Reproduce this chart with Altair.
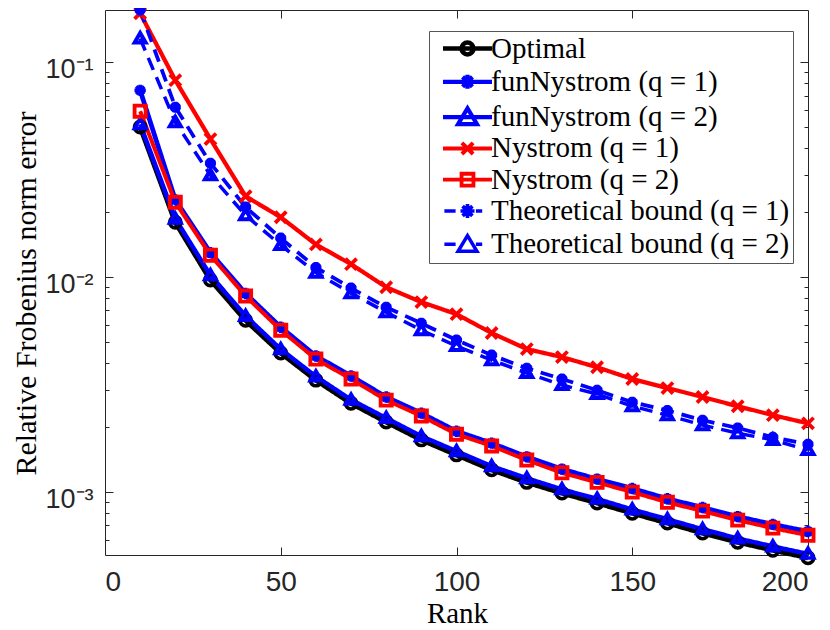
import altair as alt
import pandas as pd

# ---------------- data ----------------
ranks = [10, 20, 30, 40, 50, 60, 70, 80, 90, 100, 110, 120, 130, 140, 150, 160, 170, 180, 190, 200]

series_names = [
    "Optimal",
    "funNystrom (q = 1)",
    "funNystrom (q = 2)",
    "Nystrom (q = 1)",
    "Nystrom (q = 2)",
    "Theoretical bound (q = 1)",
    "Theoretical bound (q = 2)",
]

optimal = [0.0500, 0.0180, 0.0097, 0.0063, 0.00444, 0.00332, 0.00259, 0.00212, 0.00175, 0.00149,
           0.00127, 0.00111, 0.00099, 0.00089, 0.000798, 0.000718, 0.000645, 0.000585, 0.000537, 0.000495]
fun_q1 = [0.0740, 0.0229, 0.0130, 0.0084, 0.00585, 0.00430, 0.00347, 0.00277, 0.00233, 0.00192,
          0.00169, 0.00146, 0.00128, 0.00115, 0.00104, 0.000932, 0.000848, 0.000770, 0.000708, 0.000656]
fun_q2 = [0.0515, 0.0187, 0.0102, 0.0066, 0.00462, 0.00345, 0.00269, 0.00221, 0.00182, 0.00155,
          0.00132, 0.00116, 0.00103, 0.00093, 0.00083, 0.000748, 0.000672, 0.000609, 0.000559, 0.000516]
nys_q1 = [0.169, 0.0825, 0.0439, 0.0238, 0.0190, 0.0142, 0.0115, 0.00898, 0.00766, 0.00673,
          0.00550, 0.00463, 0.00425, 0.00381, 0.00336, 0.00305, 0.00277, 0.00251, 0.00228, 0.00209]
nys_q2 = [0.0592, 0.0223, 0.01265, 0.00817, 0.00567, 0.00416, 0.00336, 0.00268, 0.00226, 0.00186,
          0.00164, 0.00141, 0.00123, 0.00111, 0.00100, 0.000897, 0.000816, 0.000741, 0.000680, 0.000630]
theo_q1 = [0.175, 0.0618, 0.0339, 0.0212, 0.0152, 0.0111, 0.0089, 0.00725, 0.0061, 0.0051,
           0.00434, 0.00377, 0.00336, 0.00298, 0.00262, 0.00240, 0.00216, 0.00199, 0.00180, 0.00167]
theo_q2 = [0.129, 0.0526, 0.0298, 0.0194, 0.0141, 0.0105, 0.00843, 0.00687, 0.00567, 0.00478,
           0.00411, 0.00358, 0.00315, 0.00286, 0.00251, 0.00228, 0.00205, 0.00188, 0.00175, 0.00157]

all_values = [optimal, fun_q1, fun_q2, nys_q1, nys_q2, theo_q1, theo_q2]

x_tick_values = [0, 50, 100, 150, 200]
x_inner_ticks = [50, 100, 150]
y_decades = [0.1, 0.01, 0.001]
y_decade_labels = ["10\u207b\u00b9", "10\u207b\u00b2", "10\u207b\u00b3"]
y_tick_values = [k * 10.0 ** e for e in (-4, -3, -2, -1) for k in range(1, 10)
                 if 5.1e-4 <= k * 10.0 ** e <= 0.175]

# ---------------- styles ----------------
colors = ["#000000", "#0000ff", "#0000ff", "#ff0000", "#ff0000", "#0000ff", "#0000ff"]
line_widths = [5, 3.5, 3.5, 2.5, 2.5, 3, 3]
dashes = [[1, 0], [1, 0], [1, 0], [1, 0], [1, 0], [13, 8], [13, 8]]

AST = "M0,-1L0,1M-1,0L1,0M-0.7,-0.7L0.7,0.7M-0.7,0.7L0.7,-0.7"
TRI = "M0,-1L1,0.73L-1,0.73Z"
XX = "M-1,-1L1,1M-1,1L1,-1"
marker_shapes = ["circle", AST, TRI, XX, "square", AST, TRI]
marker_sizes = [130, 120, 330, 110, 150, 210, 300]
marker_widths = [3.5, 4, 3, 2.5, 2.5, 2.2, 2.2]

# legend symbols: line segment + marker
LS = "M-3.5,0L3.5,0"
LD = "M-3.3,0L-1.7,0M1.2,0L2.1,0"
L_CIRC = "M-0.85,0A0.85,0.85 0 1,1 0.85,0A0.85,0.85 0 1,1 -0.85,0Z"
L_AST = AST
L_TRI = "M0,-1.25L1.35,1L-1.35,1Z"
L_XX = "M-0.8,-0.8L0.8,0.8M-0.8,0.8L0.8,-0.8"
L_SQ = "M-0.85,-0.85L0.85,-0.85L0.85,0.85L-0.85,0.85Z"
legend_shapes = [LS + L_CIRC, LS + L_AST, LS + L_TRI, LS + L_XX, LS + L_SQ, LD + L_AST, LD + L_TRI]
legend_widths = [4.5, 3.5, 3.5, 2.5, 2.5, 3, 3]

W, H = 703, 545
AXIS_COLOR = "#262626"

rows = []
for name, vals in zip(series_names, all_values):
    for r, v in zip(ranks, vals):
        rows.append({"series": name, "rank": r, "value": v})
df = pd.DataFrame(rows)

xscale = alt.Scale(domain=[0, 200], nice=False, zero=False)
yscale = alt.Scale(type="log", domain=[5.1e-4, 0.175], nice=False, zero=False)

label_expr = " : ".join(
    f"abs(datum.value / {d} - 1) < 1e-6 ? '{lab}'" for d, lab in zip(y_decades, y_decade_labels)
) + " : ''"
major_test = "abs(log(datum.value) / LN10 - round(log(datum.value) / LN10)) < 1e-6"
tick_size_cond = {"condition": {"test": major_test, "value": 8}, "value": 4}

base = alt.Chart(df)

# layer 1: lines + main (labelled) axes
lines = base.mark_line().encode(
    x=alt.X("rank:Q", scale=xscale, axis=alt.Axis(
        orient="bottom", values=x_tick_values, ticks=False, domain=False, grid=False,
        labelFont="Liberation Sans", labelFontSize=28, labelColor=AXIS_COLOR, labelPadding=13,
        title="Rank", titleFont="Liberation Serif", titleFontSize=29, titleFontWeight="normal",
        titleColor="black", titleX=352, titleY=67, titleBaseline="alphabetic", titleAlign="center")),
    y=alt.Y("value:Q", scale=yscale, axis=alt.Axis(
        orient="left", values=y_tick_values, ticks=False, domain=False, grid=False,
        labelExpr=label_expr, labelOverlap=False,
        labelFont="Liberation Sans", labelFontSize=27, labelColor=AXIS_COLOR, labelPadding=12,
        labelOffset=7,
        title="Relative Frobenius norm error", titleFont="Liberation Serif", titleFontSize=30,
        titleFontWeight="normal", titleColor="black", titleAngle=270, titleX=-70, titleY=283,
        titleBaseline="alphabetic", titleAlign="center")),
    color=alt.Color("series:N", scale=alt.Scale(domain=series_names, range=colors), legend=None),
    strokeDash=alt.StrokeDash("series:N", scale=alt.Scale(domain=series_names, range=dashes), legend=None),
    strokeWidth=alt.StrokeWidth("series:N", scale=alt.Scale(domain=series_names, range=line_widths), legend=None),
    order="rank:Q",
)

# layer 2: markers + inward ticks on bottom and left edges
points = base.mark_point(filled=False, opacity=1).encode(
    x=alt.X("rank:Q", scale=xscale, axis=alt.Axis(
        orient="top", offset=-H, values=x_inner_ticks, labels=False, domain=False, grid=False,
        tickSize=8, tickColor=AXIS_COLOR, tickWidth=1, title=None)),
    y=alt.Y("value:Q", scale=yscale, axis=alt.Axis(
        orient="right", offset=-W, values=y_tick_values, labels=False, domain=False, grid=False,
        tickSize=tick_size_cond, tickColor=AXIS_COLOR, tickWidth=1, title=None)),
    color=alt.Color("series:N", scale=alt.Scale(domain=series_names, range=colors), legend=None),
    shape=alt.Shape("series:N", scale=alt.Scale(domain=series_names, range=marker_shapes), legend=None),
    size=alt.Size("series:N", scale=alt.Scale(domain=series_names, range=marker_sizes), legend=None),
    strokeWidth=alt.StrokeWidth("series:N", scale=alt.Scale(domain=series_names, range=marker_widths), legend=None),
)

leg = alt.Legend(
    title=None, orient="none", legendX=324, legendY=21,
    labelFont="Liberation Serif", labelFontSize=29, labelColor="black", labelLimit=500,
    symbolSize=196, symbolOffset=21, labelOffset=9, rowPadding=1.3, padding=3,
    strokeColor="#555555", fillColor="white",
)

# layer 3: legend only (no marks drawn) + inward ticks on top and right edges
legend_layer = base.mark_point(filled=False, opacity=1).encode(
    x=alt.X("rank:Q", scale=xscale, axis=alt.Axis(
        orient="bottom", offset=-H, values=x_inner_ticks, labels=False, domain=False, grid=False,
        tickSize=8, tickColor=AXIS_COLOR, tickWidth=1, title=None)),
    y=alt.Y("value:Q", scale=yscale, axis=alt.Axis(
        orient="left", offset=-W, values=y_tick_values, labels=False, domain=False, grid=False,
        tickSize=tick_size_cond, tickColor=AXIS_COLOR, tickWidth=1, title=None)),
    color=alt.Color("series:N", scale=alt.Scale(domain=series_names, range=colors), legend=leg),
    shape=alt.Shape("series:N", scale=alt.Scale(domain=series_names, range=legend_shapes), legend=leg),
    strokeWidth=alt.StrokeWidth("series:N", scale=alt.Scale(domain=series_names, range=legend_widths), legend=leg),
).transform_filter("false")

chart = alt.layer(lines, points, legend_layer).resolve_scale(
    color="independent", shape="independent", size="independent",
    strokeWidth="independent", strokeDash="independent",
).resolve_axis(x="independent", y="independent").properties(
    width=W, height=H,
    autosize=alt.AutoSizeParams(type="none"),
    padding={"left": 97, "top": 2, "right": 14, "bottom": 72},
    background="white",
).configure_view(stroke=AXIS_COLOR, strokeWidth=1)

chart.save("out.html", embed_options={"renderer": "svg", "actions": False})
